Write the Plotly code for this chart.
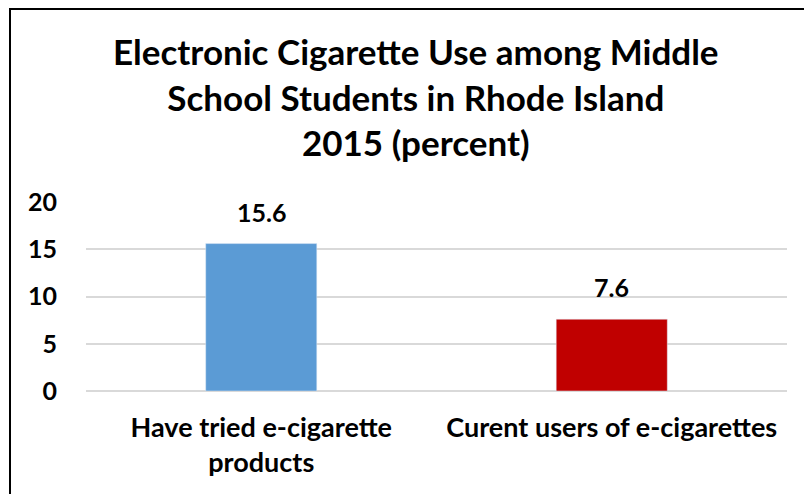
import plotly.graph_objects as go

categories = ["Have tried e-cigarette<br>products", "Curent users of e-cigarettes"]
values = [15.6, 7.6]
bar_colors = ["#5B9BD5", "#C00000"]
y_ticks = [0, 5, 10, 15, 20]
title_text = "Electronic Cigarette Use among Middle<br>School Students in Rhode Island<br>2015 (percent)"

FONT = "Lato, Carlito, Calibri, sans-serif"
# page has an 8px body margin; figure sized to fit the 812x494 window
OFF = 8
W, H = 812 - OFF, 494 - OFF
ML, MR, MT, MB = 78, 25, 194, 103
PW, PH = W - ML - MR, H - MT - MB

fig = go.Figure()
fig.add_trace(go.Bar(
    x=categories, y=values, marker_color=bar_colors, width=0.317,
    hoverinfo="skip",
))
for c, v in zip(categories, values):
    fig.add_annotation(x=c, y=v, text=str(v), showarrow=False,
                       yanchor="bottom", yshift=15,
                       font=dict(family=FONT, size=25, color="black", weight="bold"))

def px_x(px):
    return (px - ML) / PW

def px_y(py):
    return (H - MB - py) / PH

fig.add_shape(type="rect", xref="paper", yref="paper",
              x0=px_x(2), x1=px_x(830), y0=px_y(1), y1=px_y(520),
              line=dict(color="black", width=2))

fig.add_annotation(text=title_text, xref="paper", yref="paper",
                   x=px_x(408), y=px_y(20), xanchor="center", yanchor="top",
                   showarrow=False, align="center",
                   font=dict(family=FONT, size=35, color="black", weight="bold"))

fig.update_layout(
    width=W, height=H,
    margin=dict(l=ML, r=MR, t=MT, b=MB),
    paper_bgcolor="white", plot_bgcolor="white",
    showlegend=False,
    font=dict(family=FONT),
)
fig.update_yaxes(range=[0, 20], tickvals=y_ticks, showgrid=True,
                 gridcolor="#D9D9D9", gridwidth=1.5, zeroline=True,
                 zerolinecolor="#D9D9D9", zerolinewidth=1.5,
                 showline=False, ticklabelstandoff=28,
                 tickfont=dict(family=FONT, size=25, color="black", weight="bold"))
fig.update_xaxes(showline=False, showgrid=False, ticklabelstandoff=18,
                 tickfont=dict(family=FONT, size=27, color="black", weight="bold"))

fig.write_html("out.html")
